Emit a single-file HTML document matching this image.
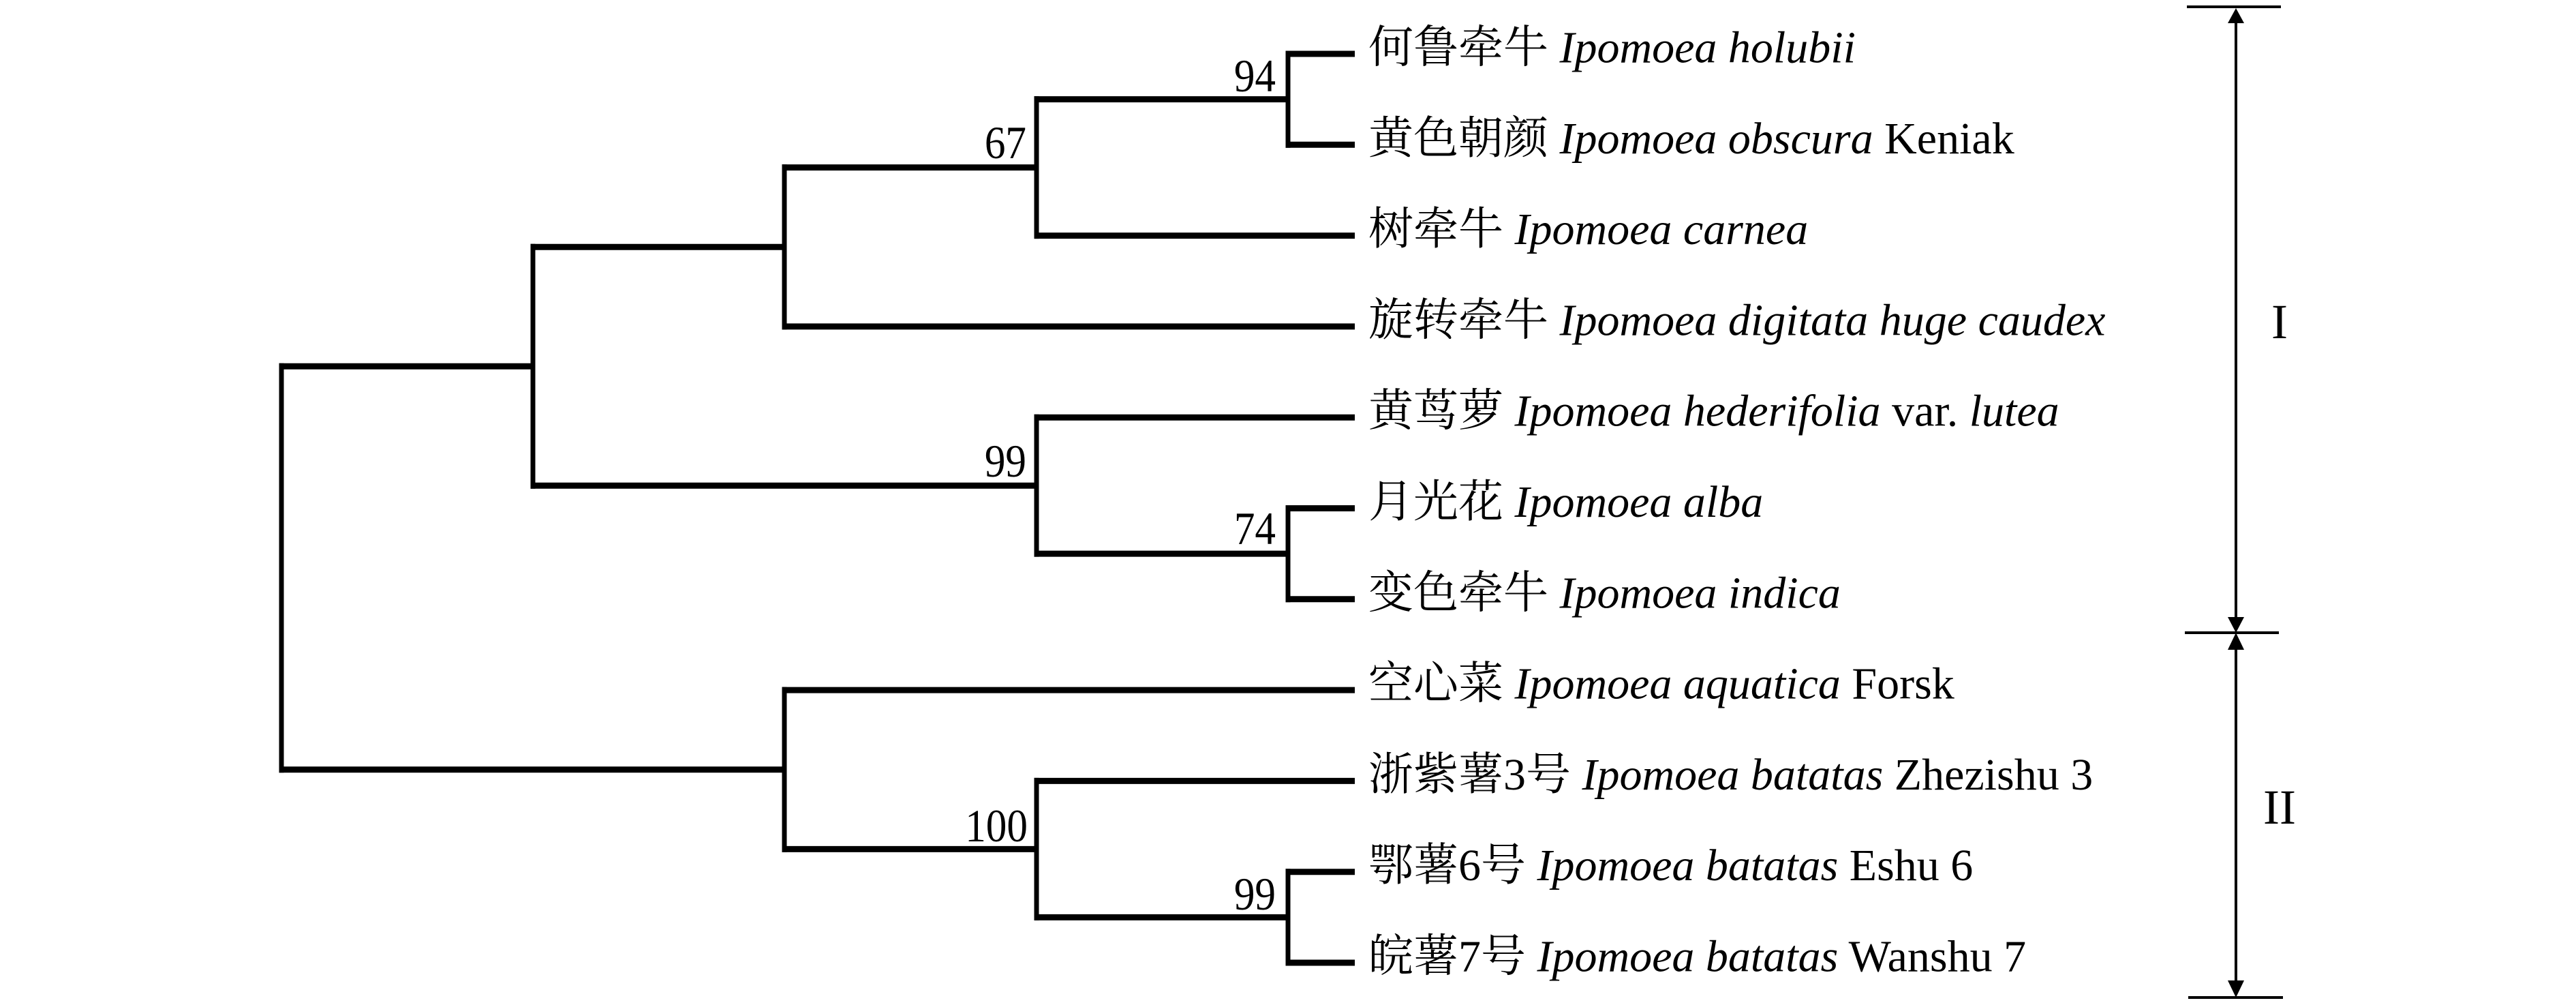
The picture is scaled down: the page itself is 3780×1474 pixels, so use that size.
<!DOCTYPE html>
<html>
<head>
<meta charset="utf-8">
<style>
  html,body{margin:0;padding:0;background:#fff;}
  body{width:3780px;height:1474px;overflow:hidden;}
  svg{display:block;}
  text{font-family:"Liberation Serif","Noto Serif CJK SC",serif;fill:#000;}
</style>
</head>
<body>
<svg width="3780" height="1474" viewBox="0 0 3780 1474" xmlns="http://www.w3.org/2000/svg">
  <rect width="3780" height="1474" fill="#fff"/>
  <g stroke="#000" stroke-linecap="butt">
    <line x1="413" y1="532.7" x2="413" y2="1133.25" stroke-width="7"/>
    <line x1="409.5" y1="537.2" x2="782" y2="537.2" stroke-width="9"/>
    <line x1="782" y1="357.75" x2="782" y2="716.7" stroke-width="7"/>
    <line x1="778.5" y1="362.25" x2="1151" y2="362.25" stroke-width="9"/>
    <line x1="1151" y1="241.1" x2="1151" y2="483.4" stroke-width="7"/>
    <line x1="1147.5" y1="245.6" x2="1521" y2="245.6" stroke-width="9"/>
    <line x1="1521" y1="141.15" x2="1521" y2="350.1" stroke-width="7"/>
    <line x1="1517.5" y1="145.65" x2="1890" y2="145.65" stroke-width="9"/>
    <line x1="1890" y1="74.5" x2="1890" y2="216.8" stroke-width="7"/>
    <line x1="1886.5" y1="79" x2="1988" y2="79" stroke-width="9"/>
    <line x1="1886.5" y1="212.3" x2="1988" y2="212.3" stroke-width="9"/>
    <line x1="1517.5" y1="345.6" x2="1988" y2="345.6" stroke-width="9"/>
    <line x1="1147.5" y1="478.9" x2="1988" y2="478.9" stroke-width="9"/>

    <line x1="778.5" y1="712.2" x2="1521" y2="712.2" stroke-width="9"/>
    <line x1="1521" y1="607.7" x2="1521" y2="816.65" stroke-width="7"/>
    <line x1="1517.5" y1="612.2" x2="1988" y2="612.2" stroke-width="9"/>
    <line x1="1517.5" y1="812.15" x2="1890" y2="812.15" stroke-width="9"/>
    <line x1="1890" y1="741" x2="1890" y2="883.3" stroke-width="7"/>
    <line x1="1886.5" y1="745.5" x2="1988" y2="745.5" stroke-width="9"/>
    <line x1="1886.5" y1="878.8" x2="1988" y2="878.8" stroke-width="9"/>

    <line x1="409.5" y1="1128.75" x2="1151" y2="1128.75" stroke-width="9"/>
    <line x1="1151" y1="1007.6" x2="1151" y2="1249.9" stroke-width="7"/>
    <line x1="1147.5" y1="1012.1" x2="1988" y2="1012.1" stroke-width="9"/>
    <line x1="1147.5" y1="1245.4" x2="1521" y2="1245.4" stroke-width="9"/>
    <line x1="1521" y1="1140.9" x2="1521" y2="1349.85" stroke-width="7"/>
    <line x1="1517.5" y1="1145.4" x2="1988" y2="1145.4" stroke-width="9"/>
    <line x1="1517.5" y1="1345.35" x2="1890" y2="1345.35" stroke-width="9"/>
    <line x1="1890" y1="1274.2" x2="1890" y2="1416.5" stroke-width="7"/>
    <line x1="1886.5" y1="1278.7" x2="1988" y2="1278.7" stroke-width="9"/>
    <line x1="1886.5" y1="1412" x2="1988" y2="1412" stroke-width="9"/>
  </g>

  <!-- Bootstrap values -->
  <g font-size="68" text-anchor="end">
    <text transform="translate(1872,134) scale(0.9,1)">94</text>
    <text transform="translate(1506,232) scale(0.9,1)">67</text>
    <text transform="translate(1506,699) scale(0.9,1)">99</text>
    <text transform="translate(1872,798) scale(0.9,1)">74</text>
    <text transform="translate(1508,1234) scale(0.9,1)">100</text>
    <text transform="translate(1872,1334) scale(0.9,1)">99</text>
  </g>

  <!-- Leaf labels -->
  <g font-size="66">
    <text x="2008" y="91.5">何鲁牵牛 <tspan font-style="italic">Ipomoea holubii</tspan></text>
    <text x="2008" y="224.8">黄色朝颜 <tspan font-style="italic">Ipomoea obscura</tspan> Keniak</text>
    <text x="2008" y="358.1">树牵牛 <tspan font-style="italic">Ipomoea carnea</tspan></text>
    <text x="2008" y="491.4">旋转牵牛 <tspan font-style="italic">Ipomoea digitata huge caudex</tspan></text>
    <text x="2008" y="624.7">黄茑萝 <tspan font-style="italic">Ipomoea hederifolia</tspan> var. <tspan font-style="italic">lutea</tspan></text>
    <text x="2008" y="758">月光花 <tspan font-style="italic">Ipomoea alba</tspan></text>
    <text x="2008" y="891.3">变色牵牛 <tspan font-style="italic">Ipomoea indica</tspan></text>
    <text x="2008" y="1024.6">空心菜 <tspan font-style="italic">Ipomoea aquatica</tspan> Forsk</text>
    <text x="2008" y="1157.9">浙紫薯3号 <tspan font-style="italic">Ipomoea batatas</tspan> Zhezishu 3</text>
    <text x="2008" y="1291.2">鄂薯6号 <tspan font-style="italic">Ipomoea batatas</tspan> Eshu 6</text>
    <text x="2008" y="1424.5">皖薯7号 <tspan font-style="italic">Ipomoea batatas</tspan> Wanshu 7</text>
  </g>

  <!-- Right bracket -->
  <g stroke="#000" stroke-width="4">
    <line x1="3209" y1="10" x2="3347" y2="10"/>
    <line x1="3206" y1="928" x2="3344" y2="928"/>
    <line x1="3211" y1="1463" x2="3350" y2="1463"/>
    <line x1="3281" y1="30" x2="3281" y2="908"/>
    <line x1="3281" y1="950" x2="3281" y2="1440"/>
  </g>
  <g fill="#000">
    <polygon points="3281,12 3293,34 3269,34"/>
    <polygon points="3269,905 3293,905 3281,928"/>
    <polygon points="3281,928 3293,953 3269,953"/>
    <polygon points="3269,1438 3293,1438 3281,1463"/>
  </g>
  <g font-size="72" text-anchor="middle">
    <text x="3345" y="496">I</text>
    <text x="3345" y="1208">II</text>
  </g>
</svg>
</body>
</html>
